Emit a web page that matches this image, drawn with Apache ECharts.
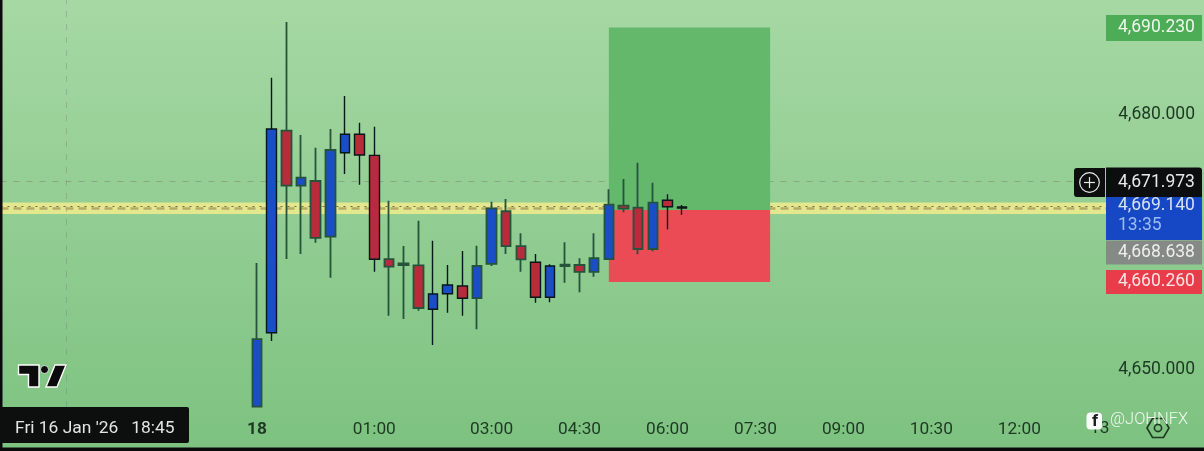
<!DOCTYPE html>
<html><head><meta charset="utf-8">
<style>html,body{margin:0;padding:0;background:#000}#c{width:1204px;height:451px}</style>
<script src="https://cdn.jsdelivr.net/npm/echarts@6/dist/echarts.min.js"></script>
</head><body><div id="c"></div>
<script>
// Values
const opens  = [4645.40,4654.09,4677.86,4671.39,4671.94,4665.39,4675.27,4677.44,4674.96,4662.76,4662.26,4662.02,4656.85,4658.68,4659.59,4658.15,4662.18,4668.38,4664.29,4662.38,4658.26,4661.94,4662.06,4661.24,4662.76,4669.04,4668.80,4663.94,4669.67,4668.76];
const closes = [4653.35,4678.06,4671.39,4672.33,4665.24,4675.59,4677.44,4675.00,4662.73,4661.86,4662.06,4657.00,4658.65,4659.71,4658.14,4661.94,4668.73,4664.29,4662.73,4658.26,4661.94,4662.09,4661.24,4662.85,4669.15,4668.68,4663.94,4669.39,4668.92,4668.88];
const lows   = [4645.40,4653.12,4662.76,4663.35,4664.68,4660.56,4672.76,4671.51,4661.27,4656.09,4655.71,4656.68,4652.65,4656.45,4656.09,4654.49,4661.94,4663.35,4661.27,4657.62,4657.67,4659.98,4658.85,4660.68,4662.76,4668.26,4663.32,4663.67,4666.26,4667.98];
const highs  = [4662.29,4684.09,4690.65,4677.35,4675.86,4678.06,4681.94,4678.80,4678.33,4669.62,4664.29,4667.27,4664.92,4662.06,4663.71,4664.33,4669.51,4669.82,4665.79,4663.35,4662.14,4664.73,4662.85,4665.79,4670.96,4672.18,4674.09,4671.74,4670.38,4669.12];
const softWicks = [0,2,3,4,5,9,10,11,15,16,17,18,21,22,23,24,25,26,27];
const tickLabels = ['18','01:00','03:00','04:30','06:00','07:30','09:00','10:30','12:00'];
const tickCandles = [0,8,16,22,28,34,40,46,52];
const priceTicks = [4650,4680];
const crosshairPrice = 4671.973, crosshairCandle = -13;
const bandLow = 4668.06, bandHigh = 4669.40, lastLine = 4668.95, dashLine = 4668.72;
const targetTop = 4690.0, entry = 4668.53, stopBottom = 4660.05;
const boxFrom = 24, boxTo = 35;
const tagTexts = ['4,690.230','4,671.973','4,669.140','4,668.638','4,660.260'];
const tagAnchors = [4689.94,4671.76,4667.53,4663.53,4660.06];

const padBefore = 17, slots = 76;
const categories = new Array(slots).fill('');
tickLabels.forEach((t,i)=>{categories[padBefore+tickCandles[i]] = t;});
const tagStyles = [
 {h:26,fill:'#4cad56',text:'#eef7ee'},
 {h:30,fill:'#0c0d0e',text:'#e8e8e8'},
 {h:43,fill:'#1647c4',text:'#d6e2f8',sub:'13:35'},
 {h:24,fill:'#858a86',text:'#eeeeee'},
 {h:24,fill:'#e93c4b',text:'#fbe4e4'}
];
const candleData = new Array(slots).fill('-');
opens.forEach((o,i)=>{
  const soft = softWicks.includes(i);
  const c = soft ? '#25533c' : '#07171a';
  candleData[padBefore+i] = {value:[o,closes[i],lows[i],highs[i]],
    itemStyle:{borderColor:c,borderColor0:c,borderColorDoji:c,borderWidth:soft?1.8:1.4}};
});
const F = 'Roboto, sans-serif';
const tagFont = '17.5px '+F;
const chart = echarts.init(document.getElementById('c'),null,{renderer:'canvas'});
chart.setOption({
  animation:false,
  backgroundColor:{type:'linear',x:0,y:0,x2:0,y2:1,colorStops:[{offset:0,color:'#a6d8a4'},{offset:1,color:'#7dc280'}]},
  grid:{left:0.47,top:0,width:1114.16,height:407,containLabel:false},
  xAxis:{type:'category',data:categories,boundaryGap:true,
    axisLine:{show:false},axisTick:{show:false},splitLine:{show:false},
    axisLabel:{interval:(i,v)=>v!=='',margin:14,fontFamily:F,fontSize:17.3,color:'#1c3a22',hideOverlap:false,
      formatter:v=>v==='18'?'{b|18}':v,rich:{b:{fontFamily:F,fontSize:17.3,fontWeight:'bold',color:'#1c3a22'}}}},
  yAxis:{type:'value',position:'right',min:4645.353,max:4693.235,scale:true,
    axisLine:{show:false},axisTick:{show:false},splitLine:{show:false},
    axisLabel:{customValues:priceTicks,margin:3.5,fontFamily:F,fontSize:17.5,color:'#1c3a22',verticalAlign:'top',lineHeight:4,
      formatter:v=>v.toLocaleString('en-US',{minimumFractionDigits:3,maximumFractionDigits:3})}},
  series:[
   {type:'line',name:'guides',data:[],z:1,silent:true,
    markArea:{silent:true,z:1,itemStyle:{color:'#e3e88f'},data:[[{yAxis:bandLow},{yAxis:bandHigh}]]},
    markLine:{silent:true,z:2,symbol:'none',label:{show:false},data:[
      {yAxis:crosshairPrice,lineStyle:{color:'rgba(120,130,120,.5)',type:[6,7],width:1}},
      {xAxis:padBefore+crosshairCandle,lineStyle:{color:'rgba(120,130,120,.4)',type:[6,7],width:1}},
      {yAxis:dashLine,lineStyle:{color:'#b5ab68',type:[8,5],width:2.5}},
      {yAxis:lastLine,lineStyle:{color:'#6f6c48',type:[2,5],width:1}}
    ]}},
   {type:'line',name:'position',data:[],z:3,silent:true,
    markArea:{silent:true,z:3,data:[
      [{xAxis:padBefore+boxFrom,yAxis:targetTop,itemStyle:{color:'#64b86b'}},{xAxis:padBefore+boxTo,yAxis:entry}],
      [{xAxis:padBefore+boxFrom,yAxis:entry,itemStyle:{color:'#ea4b55'}},{xAxis:padBefore+boxTo,yAxis:stopBottom}]
    ]}},
   {type:'candlestick',name:'XAUUSD',z:4,barWidth:10,clip:true,data:candleData,
    itemStyle:{color:'#1a4ec6',color0:'#b92a3a'}},
   {type:'custom',name:'tags',z:8,silent:true,clip:false,coordinateSystem:'cartesian2d',
    data:tagAnchors.map((a,i)=>[0,a,i]),
    encode:{x:0,y:1},
    renderItem:(p,api)=>{
      const i=api.value(2), y=api.coord([0,api.value(1)])[1], s=tagStyles[i];
      const top=y-s.h/2;
      const kids=[{type:'rect',shape:{x:1106,y:top,width:96,height:s.h,r:i===1?[0,3,0,0]:[0,0,0,0]},style:{fill:s.fill}},
        {type:'text',style:{x:1118,y:s.sub?top+9:y,text:tagTexts[i],fill:s.text,font:tagFont,verticalAlign:'middle'}}];
      if(s.sub)kids.push({type:'text',style:{x:1118,y:top+29,text:s.sub,fill:'#9dbdf2',font:tagFont,verticalAlign:'middle'}});
      return {type:'group',children:kids};
    }}
  ],
  graphic:{elements:[
    {type:'rect',z:20,shape:{x:0,y:0,width:2.5,height:451},style:{fill:'#0a0a0a'}},
    {type:'rect',z:20,shape:{x:0,y:447.5,width:1204,height:4},style:{fill:'#0a0a0a'}},
    {type:'rect',z:21,shape:{x:0,y:407,width:189,height:36,r:[0,2,2,0]},style:{fill:'#0d0e0e'}},
    {type:'text',z:22,style:{x:15,y:429,text:"Fri 16 Jan '26   18:45",fill:'#e4e4e4',font:'17.4px '+F,verticalAlign:'middle'}},
    {type:'polygon',z:22,shape:{points:[[18.5,365],[39,365],[39,387],[28.5,387],[28.5,374.5],[18.5,374.5]]},style:{fill:'#0b0b0b',stroke:'#ffffff',lineWidth:1.4}},
    {type:'polygon',z:22,shape:{points:[[55,365],[66,365],[57,387],[46,387]]},style:{fill:'#0b0b0b',stroke:'#ffffff',lineWidth:1.4}},
    {type:'circle',z:22,shape:{cx:44.5,cy:369.5,r:4},style:{fill:'#0b0b0b',stroke:'#ffffff',lineWidth:0.8}},
    {type:'rect',z:21,shape:{x:1074,y:168,width:31,height:29,r:[3,0,0,3]},style:{fill:'#0d0e0e'}},
    {type:'circle',z:22,shape:{cx:1089.5,cy:182.5,r:9.8},style:{fill:'none',stroke:'#e8e8e8',lineWidth:1.2}},
    {type:'line',z:22,shape:{x1:1084,y1:182.5,x2:1095,y2:182.5},style:{stroke:'#e8e8e8',lineWidth:1.2}},
    {type:'line',z:22,shape:{x1:1089.5,y1:177,x2:1089.5,y2:188},style:{stroke:'#e8e8e8',lineWidth:1.2}},
    {type:'text',z:9,style:{x:1090,y:429,text:'13',fill:'#1c3a22',font:'17.3px '+F,verticalAlign:'middle'}},
    {type:'polygon',z:9,shape:{points:[[1147,428],[1152.5,418.5],[1163.5,418.5],[1169,428],[1163.5,437.5],[1152.5,437.5]]},style:{fill:'none',stroke:'#1c3a22',lineWidth:1.6}},
    {type:'circle',z:9,shape:{cx:1158,cy:428,r:3.6},style:{fill:'none',stroke:'#1c3a22',lineWidth:1.6}},
    {type:'rect',z:10,shape:{x:1086.5,y:412.5,width:15.5,height:17,r:4},style:{fill:'#fbfdfb'}},
    {type:'text',z:11,style:{x:1095,y:422,text:'f',fill:'#1b1b1b',font:'bold 17px '+F,align:'center',verticalAlign:'middle'}},
    {type:'text',z:10,style:{x:1110,y:420,text:'@JOHNFX',fill:'#f2f8f1',font:'300 16.5px '+F,verticalAlign:'middle'}}
  ]}
});
</script></body></html>
